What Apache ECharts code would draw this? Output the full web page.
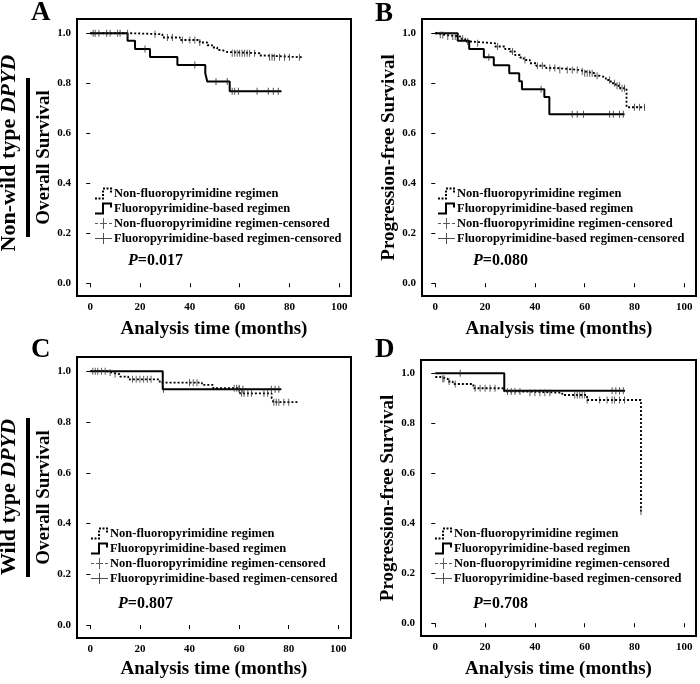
<!DOCTYPE html>
<html>
<head>
<meta charset="utf-8">
<script src="https://cdn.jsdelivr.net/npm/echarts@6/dist/echarts.min.js"></script>
<style>html,body{margin:0;padding:0;background:#fff}#c{width:700px;height:684px}</style>
</head>
<body>
<div id="c"></div>
<script>
// ---- data (time in months, survival probability) ----
const xTicks = [0, 20, 40, 60, 80, 100];
const yTicks = [0, 0.2, 0.4, 0.6, 0.8, 1.0];
const seriesNames = ['Non-fluoropyrimidine regimen', 'Fluoropyrimidine-based regimen',
  'Non-fluoropyrimidine regimen-censored', 'Fluoropyrimidine-based regimen-censored'];
const panelLetters = ['A', 'B', 'C', 'D'];
const pValues = ['0.017', '0.080', '0.807', '0.708'];
const yTitles = ['Overall Survival', 'Progression-free Survival', 'Overall Survival', 'Progression-free Survival'];
const xTitle = 'Analysis time (months)';
const rowTitles = ['Non-wild type ', 'Wild type '];

// Panel A
const aNonSteps = [[0,1],[17,0.996],[29,0.983],[36,0.973],[44,0.963],[47,0.952],[49,0.943],[51,0.933],[53,0.925],[55,0.92],[68,0.911],[70,0.904],[84.9,0.904]];
const aNonCens = [2,3.5,8,11,15,26,31,33,37,40,42,44,57,58,59,60,61,62,63,64,66,72,73,74,76,78,80,84];
const aFluSteps = [[0,1],[15,0.970],[18,0.937],[24,0.905],[35,0.873],[46.2,0.840],[47,0.807],[56,0.768],[76.8,0.768]];
const aFluCens = [1.2,6.6,12,22,42,50.5,55,57,58,59.5,67,71.5,73.5,75.5];
// Panel B
const bNonSteps = [[0,1],[1,0.993],[4,0.987],[10,0.978],[12,0.967],[14,0.96],[24,0.947],[28,0.937],[30,0.927],[32,0.913],[34,0.903],[35.5,0.893],[38,0.88],[40.5,0.87],[44.5,0.861],[48.5,0.853],[58,0.847],[60,0.84],[64,0.83],[66,0.824],[68.5,0.813],[70.5,0.8],[72.5,0.79],[74.3,0.78],[76.8,0.704],[84.2,0.704]];
const bNonCens = [2,3,5,7,8,11,13,17,25,31,36,41,43,46,48,50,53,55,57,59,60,61,62,63,65,70,72,73,74,75,76,80,82,84];
const bFluSteps = [[0,1],[9,0.970],[13.6,0.937],[19.5,0.904],[23.5,0.872],[29.7,0.840],[33.7,0.808],[34.8,0.776],[43.8,0.745],[45.8,0.676],[76,0.676]];
const bFluCens = [21.5,42.5,55,57,59.5,70,71.5,74,75.5];
// Panel C
const cNonSteps = [[0,1],[6.6,0.995],[8.6,0.988],[12,0.979],[15.3,0.968],[28,0.955],[45,0.946],[49.6,0.933],[60.3,0.913],[73.1,0.894],[73.8,0.878],[83.9,0.878]];
const cNonCens = [1,2,3,4.5,6,8,10,17,18.5,20,21.5,23,24.5,40,41.5,43,58,59,60,61,62,63.5,65,70,71.5,74,75,76,78,80];
const cFluSteps = [[0,1],[29.2,0.929],[77,0.929]];
const cFluCens = [29.5,60,61.5,73,74.5,76];
// Panel D
const dNonSteps = [[0,0.985],[2,0.978],[5,0.967],[7,0.957],[15.3,0.94],[27.7,0.927],[36,0.922],[51,0.913],[61,0.893],[82.6,0.447]];
const dNonCens = [3,3.5,5.5,8,16,18,20,22,24,29,30.5,32,34,38,40,42,44,46,56,57,58,59,60,61,66,69,71,72,74,76,82.6];
const dFluSteps = [[0,1],[27.7,0.930],[76.2,0.930]];
const dFluCens = [10,71,72.5,74,75.5];

const panels = [
  {non: aNonSteps, nonC: aNonCens, flu: aFluSteps, fluC: aFluCens},
  {non: bNonSteps, nonC: bNonCens, flu: bFluSteps, fluC: bFluCens},
  {non: cNonSteps, nonC: cNonCens, flu: cFluSteps, fluC: cFluCens},
  {non: dNonSteps, nonC: dNonCens, flu: dFluSteps, fluC: dFluCens}
];

// ---- layout ----
const FONT = "'Liberation Serif', 'Times New Roman', serif";
const layout = [
  {grid: {left: 77, top: 19, width: 274, height: 277}, x: [-5.3, 104.7], y: [-0.051, 1.057], xGap: 24, legend: [95, 187], p: [128, 253]},
  {grid: {left: 422, top: 19, width: 274, height: 277}, x: [-5.34, 104.7], y: [-0.051, 1.057], xGap: 24, legend: [438, 187], p: [473, 253]},
  {grid: {left: 77, top: 357, width: 274, height: 281}, x: [-5.36, 105.1], y: [-0.051, 1.056], xGap: 22, legend: [91, 527], p: [118, 596]},
  {grid: {left: 421, top: 360, width: 275, height: 276}, x: [-5.74, 104.7], y: [-0.051, 1.053], xGap: 24, legend: [435, 527], p: [473, 596]}
];
const letterPos = [[31, 0], [375, 1], [31, 337], [375, 337]];

function survAt(steps, t) {
  let v = steps[0][1];
  for (const s of steps) { if (s[0] <= t) v = s[1]; else break; }
  return v;
}

const icons = [
  'path://M0,10h2v2h-2z M3.5,10h2v2h-2z M7,10h2v2h-2z M7,6.5h2v2h-2z M7,3h2v2h-2z M8,0h2v2h-2z M11.5,0h2v2h-2z M15,0h2v2h-2z M15,3h2v2h-2z',
  'path://M0,10h9v2h-9z M7,0h2v12h-2z M7,0h10v2h-10z M15,0h2v5h-2z',
  'path://M0,5.5h3v1h-3z M5,5.5h7v1h-7z M8,0.5h1v11h-1z M14,5.5h3v1h-3z M0,0h0.01v12h-0.01z M16.99,0h0.01v12h-0.01z',
  'path://M0,5.5h17v1h-17z M8,0.5h1v11h-1z M0,0h0.01v12h-0.01z M16.99,0h0.01v12h-0.01z'
];

const grids = [], xAxes = [], yAxes = [], series = [], legends = [], titles = [];
layout.forEach((L, k) => {
  grids.push(Object.assign({show: true, borderColor: '#000', borderWidth: 2, backgroundColor: '#fff'}, L.grid));
  xAxes.push({
    type: 'value', gridIndex: k, min: L.x[0], max: L.x[1],
    axisLine: {show: false}, splitLine: {show: false},
    axisTick: {show: true, length: 4, customValues: xTicks, lineStyle: {color: '#000', width: 1}},
    axisLabel: {customValues: xTicks, margin: 6, color: '#000', fontFamily: FONT, fontWeight: 'bold', fontSize: 11},
    name: xTitle, nameLocation: 'middle', nameGap: L.xGap,
    nameTextStyle: {color: '#000', fontFamily: FONT, fontWeight: 'bold', fontSize: 19}
  });
  yAxes.push({
    type: 'value', gridIndex: k, min: L.y[0], max: L.y[1],
    axisLine: {show: false}, splitLine: {show: false},
    axisTick: {show: true, length: 4, customValues: yTicks, lineStyle: {color: '#000', width: 1}},
    axisLabel: {customValues: yTicks, margin: 6, color: '#000', fontFamily: FONT, fontWeight: 'bold', fontSize: 11,
      formatter: v => v.toFixed(1)},
    name: yTitles[k], nameLocation: 'middle', nameGap: 23,
    nameTextStyle: {color: '#000', fontFamily: FONT, fontWeight: 'bold', fontSize: 19}
  });
  const P = panels[k];
  series.push({
    name: seriesNames[0], type: 'line', step: 'end', xAxisIndex: k, yAxisIndex: k,
    data: P.non, showSymbol: false, color: '#000', z: 3,
    lineStyle: {color: '#000', width: 1.8, type: [2, 2]}
  });
  series.push({
    name: seriesNames[1], type: 'line', step: 'end', xAxisIndex: k, yAxisIndex: k,
    data: P.flu, showSymbol: false, color: '#000', z: 4,
    lineStyle: {color: '#000', width: 2}
  });
  series.push({
    name: seriesNames[2], type: 'scatter', xAxisIndex: k, yAxisIndex: k,
    data: P.nonC.map(t => [t, survAt(P.non, t)]), symbol: 'rect', symbolSize: [1, 7],
    color: '#333', z: 5
  });
  series.push({
    name: seriesNames[3], type: 'scatter', xAxisIndex: k, yAxisIndex: k,
    data: P.fluC.map(t => [t, survAt(P.flu, t)]), symbol: 'rect', symbolSize: [1, 7],
    color: '#222', z: 5
  });
  legends.push({
    left: L.legend[0], top: L.legend[1], orient: 'vertical', padding: 0, itemGap: 2,
    itemWidth: 17, itemHeight: 12, selectedMode: false,
    itemStyle: {borderWidth: 0},
    textStyle: {color: '#000', fontFamily: FONT, fontWeight: 'bold', fontSize: 12.5, padding: [0, 0, 0, -3]},
    data: seriesNames.map((n, i) => ({name: n, icon: icons[i]}))
  });
  titles.push({
    left: L.p[0], top: L.p[1], padding: 0,
    text: '{i|P}{n|=' + pValues[k] + '}',
    textStyle: {rich: {
      i: {fontFamily: FONT, fontWeight: 'bold', fontStyle: 'italic', fontSize: 16, color: '#000'},
      n: {fontFamily: FONT, fontWeight: 'bold', fontSize: 16, color: '#000'}
    }}
  });
  titles.push({
    left: letterPos[k][0], top: letterPos[k][1], padding: 0, text: panelLetters[k],
    textStyle: {fontFamily: FONT, fontWeight: 'bold', fontSize: 27, color: '#000'}
  });
});

const graphic = [];
[[9.5, 153, 0], [9.5, 497, 1]].forEach(([x, y, r]) => {
  graphic.push({
    type: 'text', x: x, y: y, rotation: Math.PI / 2, silent: true,
    style: {
      text: '{n|' + rowTitles[r] + '}{i|DPYD}', align: 'center', verticalAlign: 'middle',
      rich: {
        n: {fontFamily: FONT, fontWeight: 'bold', fontSize: 22, fill: '#000'},
        i: {fontFamily: FONT, fontWeight: 'bold', fontStyle: 'italic', fontSize: 22, fill: '#000'}
      }
    }
  });
});
graphic.push({type: 'rect', shape: {x: 26, y: 78, width: 4, height: 159}, style: {fill: '#000'}, silent: true});
graphic.push({type: 'rect', shape: {x: 26, y: 418, width: 4, height: 159}, style: {fill: '#000'}, silent: true});

const chart = echarts.init(document.getElementById('c'), null, {renderer: 'canvas'});
chart.setOption({
  animation: false,
  backgroundColor: '#fff',
  grid: grids, xAxis: xAxes, yAxis: yAxes, series: series,
  legend: legends, title: titles, graphic: graphic
});
</script>
</body>
</html>
